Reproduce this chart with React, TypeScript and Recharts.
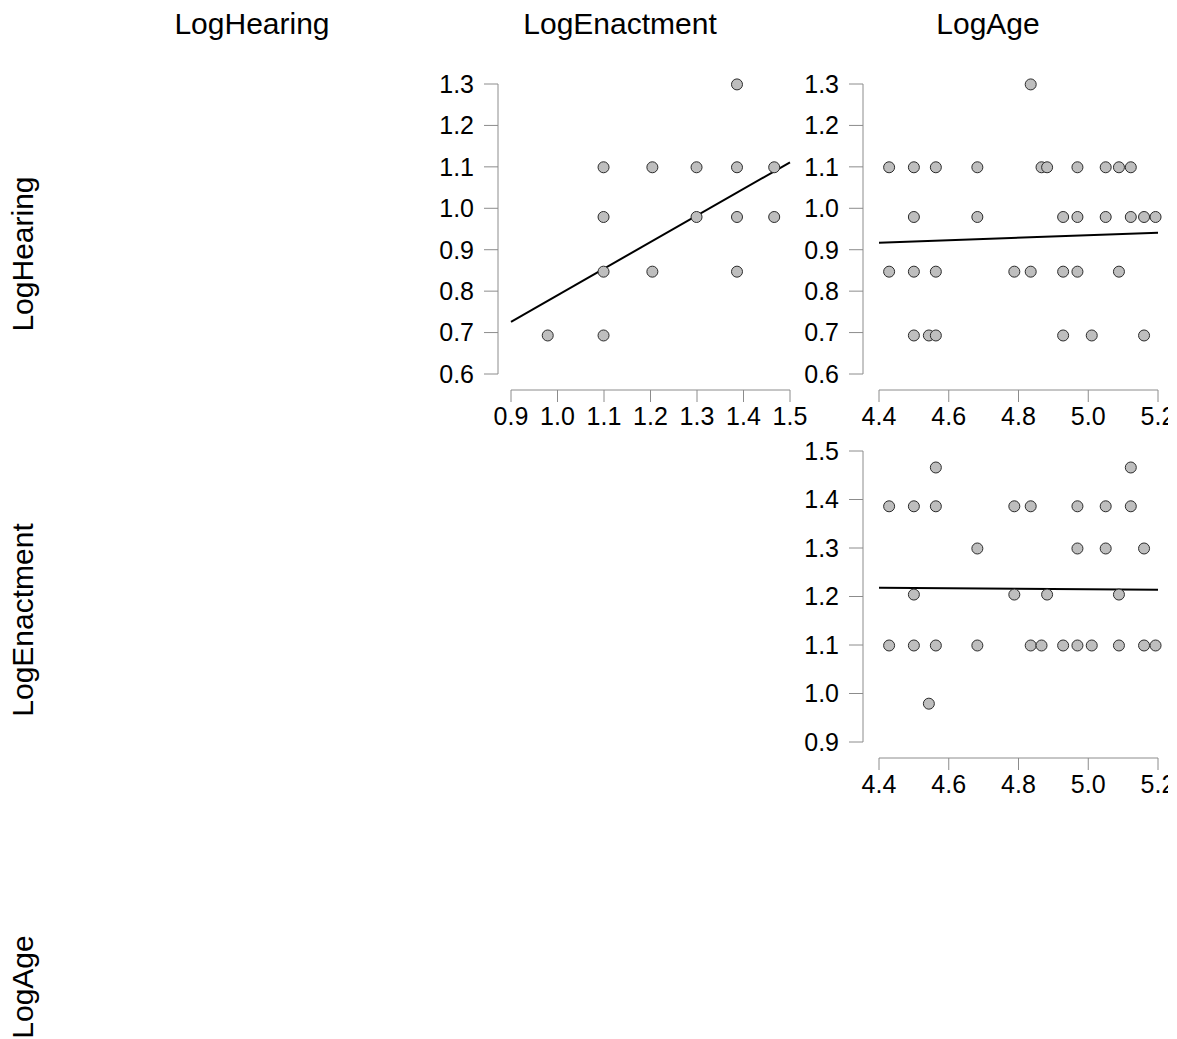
import React from 'react';
import { ScatterChart, Scatter, XAxis, YAxis, ReferenceLine } from 'recharts';

const FONT = '"Liberation Sans", Arial, Helvetica, sans-serif';

// Variable names (column titles and row labels)
const variables = ['LogHearing', 'LogEnactment', 'LogAge'];

// Panel A: LogEnactment (x) vs LogHearing (y)
const enactmentA = [0.979, 1.099, 1.099, 1.099, 1.099, 1.204, 1.204, 1.299, 1.299, 1.386, 1.386, 1.386, 1.386, 1.466, 1.466];
const hearingA = [0.693, 1.099, 0.979, 0.847, 0.693, 1.099, 0.847, 1.099, 0.979, 1.299, 1.099, 0.979, 0.847, 1.099, 0.979];
const fitA = [[0.9, 0.726], [1.5, 1.111]];
const xTicksA = [0.9, 1.0, 1.1, 1.2, 1.3, 1.4, 1.5];
const yTicksA = [0.6, 0.7, 0.8, 0.9, 1.0, 1.1, 1.2, 1.3];

// Panel B: LogAge (x) vs LogHearing (y)
const ageB = [
  4.429, 4.5, 4.563, 4.682, 4.866, 4.882, 4.969, 5.05, 5.088, 5.122,
  4.5, 4.682, 4.928, 4.969, 5.05, 5.122, 5.16, 5.193,
  4.429, 4.5, 4.563, 4.788, 4.835, 4.928, 4.969, 5.088,
  4.5, 4.543, 4.563, 4.928, 5.01, 5.16,
  4.835,
];
const hearingB = [
  1.099, 1.099, 1.099, 1.099, 1.099, 1.099, 1.099, 1.099, 1.099, 1.099,
  0.979, 0.979, 0.979, 0.979, 0.979, 0.979, 0.979, 0.979,
  0.847, 0.847, 0.847, 0.847, 0.847, 0.847, 0.847, 0.847,
  0.693, 0.693, 0.693, 0.693, 0.693, 0.693,
  1.299,
];
const fitB = [[4.4, 0.917], [5.2, 0.941]];
const xTicksB = [4.4, 4.6, 4.8, 5.0, 5.2];
const yTicksB = [0.6, 0.7, 0.8, 0.9, 1.0, 1.1, 1.2, 1.3];

// Panel C: LogAge (x) vs LogEnactment (y)
const ageC = [
  4.563, 5.122,
  4.429, 4.5, 4.563, 4.788, 4.835, 4.969, 5.05, 5.122,
  4.682, 4.969, 5.05, 5.16,
  4.5, 4.788, 4.882, 5.088,
  4.429, 4.5, 4.563, 4.682, 4.835, 4.866, 4.928, 4.969, 5.01, 5.088, 5.16, 5.193,
  4.543,
];
const enactmentC = [
  1.466, 1.466,
  1.386, 1.386, 1.386, 1.386, 1.386, 1.386, 1.386, 1.386,
  1.299, 1.299, 1.299, 1.299,
  1.204, 1.204, 1.204, 1.204,
  1.099, 1.099, 1.099, 1.099, 1.099, 1.099, 1.099, 1.099, 1.099, 1.099, 1.099, 1.099,
  0.979,
];
const fitC = [[4.4, 1.218], [5.2, 1.214]];
const xTicksC = [4.4, 4.6, 4.8, 5.0, 5.2];
const yTicksC = [0.9, 1.0, 1.1, 1.2, 1.3, 1.4, 1.5];

const AXIS_COLOR = '#8c8c8c';
const TICK_FONT = 25;

const Dot = (props: any) => (
  <circle cx={props.cx} cy={props.cy} r={5.5} fill="#bebebe" stroke="#2b2b2b" strokeWidth={1} />
);
const NoDot = () => <g />;

type PanelProps = {
  left: number;
  top: number;
  width: number;
  height: number;
  plotTop: number;
  plotRight: number;
  plotLeft: number;
  plotBottom: number;
  yShift: number;
  xShift: number;
  xs: number[];
  ys: number[];
  fit: number[][];
  xTicks: number[];
  yTicks: number[];
};

function Panel(p: PanelProps) {
  const data = p.xs.map((x, i) => ({ x, y: p.ys[i] }));
  const xDomain = [p.xTicks[0], p.xTicks[p.xTicks.length - 1]];
  const yDomain = [p.yTicks[0], p.yTicks[p.yTicks.length - 1]];
  const tickStyle = { fill: '#000', fontSize: TICK_FONT, fontFamily: FONT };
  const fmt = (v: number) => v.toFixed(1);
  const xHeight = 50;

  return (
    <>
      {/* y axis, drawn a little left of the plot region */}
      <div style={{ position: 'absolute', left: p.left - p.yShift, top: p.top }}>
        <ScatterChart
          width={p.width}
          height={p.height}
          margin={{ top: p.plotTop, right: p.plotRight, bottom: p.plotBottom, left: 0 }}
        >
          <XAxis type="number" dataKey="x" domain={xDomain} ticks={p.xTicks} hide />
          <YAxis
            type="number"
            dataKey="y"
            domain={yDomain}
            ticks={p.yTicks}
            interval={0}
            width={p.plotLeft}
            tickSize={14}
            tickMargin={10}
            tickFormatter={fmt}
            tick={tickStyle}
            axisLine={{ stroke: AXIS_COLOR }}
            tickLine={{ stroke: AXIS_COLOR }}
          />
          <Scatter data={data} isAnimationActive={false} shape={NoDot} />
        </ScatterChart>
      </div>
      {/* x axis, drawn a little below the plot region */}
      <div style={{ position: 'absolute', left: p.left, top: p.top + p.xShift }}>
        <ScatterChart
          width={p.width}
          height={p.height}
          margin={{ top: p.plotTop, right: p.plotRight, bottom: p.plotBottom - xHeight, left: p.plotLeft }}
        >
          <XAxis
            type="number"
            dataKey="x"
            domain={xDomain}
            ticks={p.xTicks}
            interval={0}
            height={xHeight}
            tickSize={12}
            tickMargin={5}
            tickFormatter={fmt}
            tick={tickStyle}
            axisLine={{ stroke: AXIS_COLOR }}
            tickLine={{ stroke: AXIS_COLOR }}
          />
          <YAxis type="number" dataKey="y" domain={yDomain} ticks={p.yTicks} hide />
          <Scatter data={data} isAnimationActive={false} shape={NoDot} />
        </ScatterChart>
      </div>
      {/* points and fitted line */}
      <div style={{ position: 'absolute', left: p.left, top: p.top }}>
        <ScatterChart
          width={p.width}
          height={p.height}
          margin={{ top: p.plotTop, right: p.plotRight, bottom: p.plotBottom, left: p.plotLeft }}
        >
          <XAxis type="number" dataKey="x" domain={xDomain} ticks={p.xTicks} hide />
          <YAxis type="number" dataKey="y" domain={yDomain} ticks={p.yTicks} hide />
          <Scatter data={data} isAnimationActive={false} shape={Dot} />
          <ReferenceLine
            segment={[{ x: p.fit[0][0], y: p.fit[0][1] }, { x: p.fit[1][0], y: p.fit[1][1] }]}
            stroke="#000"
            strokeWidth={2}
          />
        </ScatterChart>
      </div>
    </>
  );
}

export default function App() {
  const colCenters = [252, 620, 988];
  const rowCenters = [254, 620, 987];
  return (
    <div style={{ position: 'absolute', left: 0, top: 0, width: 1177, height: 1039, background: '#fff', overflow: 'hidden' }}>
      <svg width={1177} height={1039} style={{ position: 'absolute', left: 0, top: 0 }}>
        {variables.map((v, i) => (
          <text key={'c' + v} x={colCenters[i]} y={34} textAnchor="middle" fontSize={30} fontFamily={FONT} fill="#000">
            {v}
          </text>
        ))}
        {variables.map((v, i) => (
          <text
            key={'r' + v}
            x={0}
            y={0}
            transform={`translate(33,${rowCenters[i]}) rotate(-90)`}
            textAnchor="middle"
            fontSize={30}
            fontFamily={FONT}
            fill="#000"
          >
            {v}
          </text>
        ))}
      </svg>
      <Panel
        left={430}
        top={60}
        width={380}
        height={380}
        plotTop={24}
        plotRight={20}
        plotLeft={81}
        plotBottom={66}
        yShift={13}
        xShift={16}
        xs={enactmentA}
        ys={hearingA}
        fit={fitA}
        xTicks={xTicksA}
        yTicks={yTicksA}
      />
      <Panel
        left={800}
        top={60}
        width={368}
        height={380}
        plotTop={24}
        plotRight={10}
        plotLeft={79}
        plotBottom={66}
        yShift={16}
        xShift={16}
        xs={ageB}
        ys={hearingB}
        fit={fitB}
        xTicks={xTicksB}
        yTicks={yTicksB}
      />
      <Panel
        left={800}
        top={430}
        width={368}
        height={380}
        plotTop={21}
        plotRight={10}
        plotLeft={79}
        plotBottom={68}
        yShift={16}
        xShift={16}
        xs={ageC}
        ys={enactmentC}
        fit={fitC}
        xTicks={xTicksC}
        yTicks={yTicksC}
      />
    </div>
  );
}
